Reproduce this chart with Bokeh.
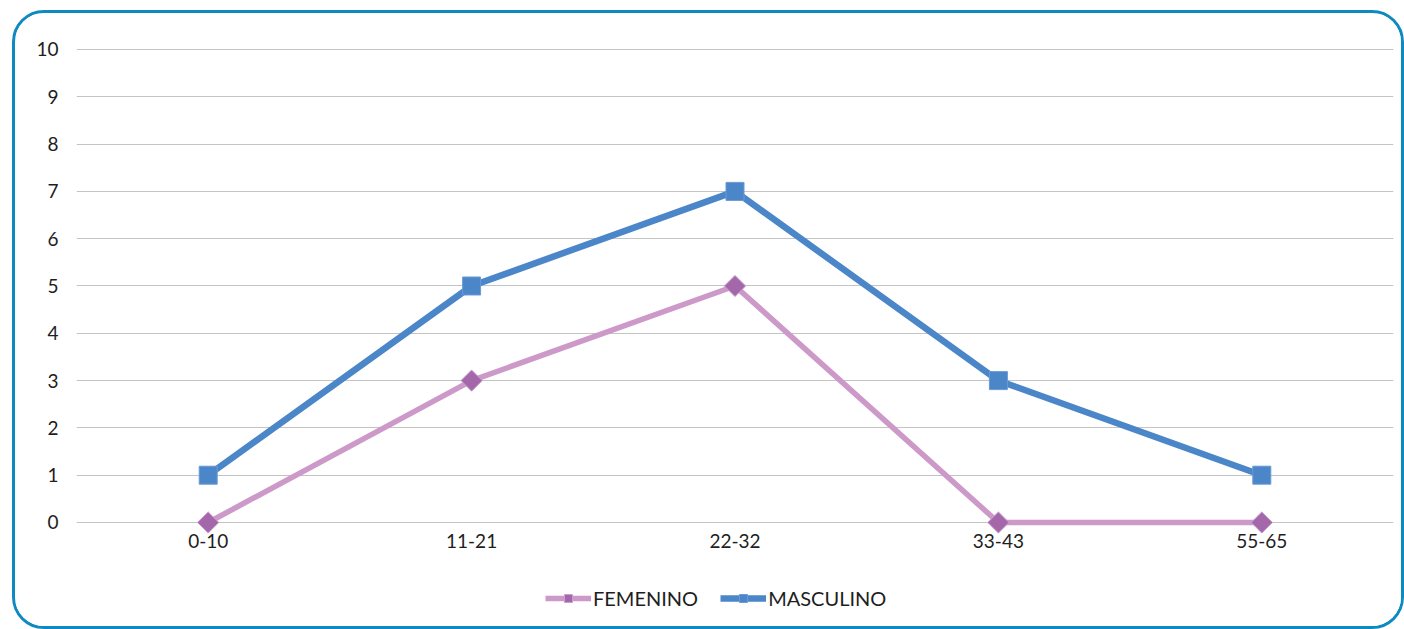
import math
from bokeh.plotting import figure
from bokeh.models import Legend, LegendItem, FixedTicker, Range1d
from bokeh.embed import file_html
from bokeh.resources import INLINE

categories = ["0-10", "11-21", "22-32", "33-43", "55-65"]
femenino = [0, 3, 5, 0, 0]
masculino = [1, 5, 7, 3, 1]
y_ticks = [0, 1, 2, 3, 4, 5, 6, 7, 8, 9, 10]

FONT = "Lato"
BLUE = "#4a86c8"
PINK = "#cc99c9"
PURPLE = "#a468aa"
TEXT = "#1e1e1e"

# frame extends below 0 so the legend can sit inside it, under the axis
p = figure(width=1392, height=619, x_range=categories, y_range=Range1d(-2.3256, 10.021),
           output_backend="svg", toolbar_location=None,
           min_border_left=61, min_border_right=14, min_border_top=35,
           min_border_bottom=0)
p.styles = {"margin-left": "12px", "margin-top": "10px",
            "border": "3px solid #0e8ac0", "border-radius": "32px",
            "overflow": "hidden"}
p.outline_line_color = None
p.background_fill_color = "white"
p.border_fill_color = "white"

p.xgrid.grid_line_color = None
p.ygrid.grid_line_color = "#c4c4c4"
p.ygrid.grid_line_width = 1
p.yaxis.ticker = FixedTicker(ticks=y_ticks)
p.xaxis.fixed_location = 0

for ax in (p.xaxis[0], p.yaxis[0]):
    ax.axis_line_color = None
    ax.major_tick_line_color = None
    ax.minor_tick_line_color = None
    ax.major_tick_out = 0
    ax.major_tick_in = 0
    ax.major_label_text_font = FONT
    ax.major_label_text_font_size = "19px"
    ax.major_label_text_color = TEXT
p.yaxis.major_label_standoff = 18
p.xaxis.major_label_standoff = 12

lf = p.line(categories, femenino, line_color=PINK, line_width=5.5)
sf = p.scatter(categories, femenino, marker="square", size=15, angle=math.pi / 4,
               fill_color=PURPLE, line_color="#c9a0cf", line_width=1)
lm = p.line(categories, masculino, line_color=BLUE, line_width=6.5)
sm = p.scatter(categories, masculino, marker="square", size=18, fill_color=BLUE,
               line_color="#6a9ad4", line_width=1)

legend = Legend(items=[LegendItem(label="FEMENINO", renderers=[lf, sf]),
                       LegendItem(label="MASCULINO", renderers=[lm, sm])],
                orientation="horizontal", location=(469, 22))
legend.label_text_font = FONT
legend.label_text_font_size = "20px"
legend.label_text_color = TEXT
legend.glyph_width = 46
legend.label_standoff = 2
legend.spacing = 22
legend.padding = 0
legend.margin = 0
legend.border_line_color = None
legend.background_fill_alpha = 0
p.add_layout(legend, "center")

open("out.html", "w").write(file_html(p, INLINE))
